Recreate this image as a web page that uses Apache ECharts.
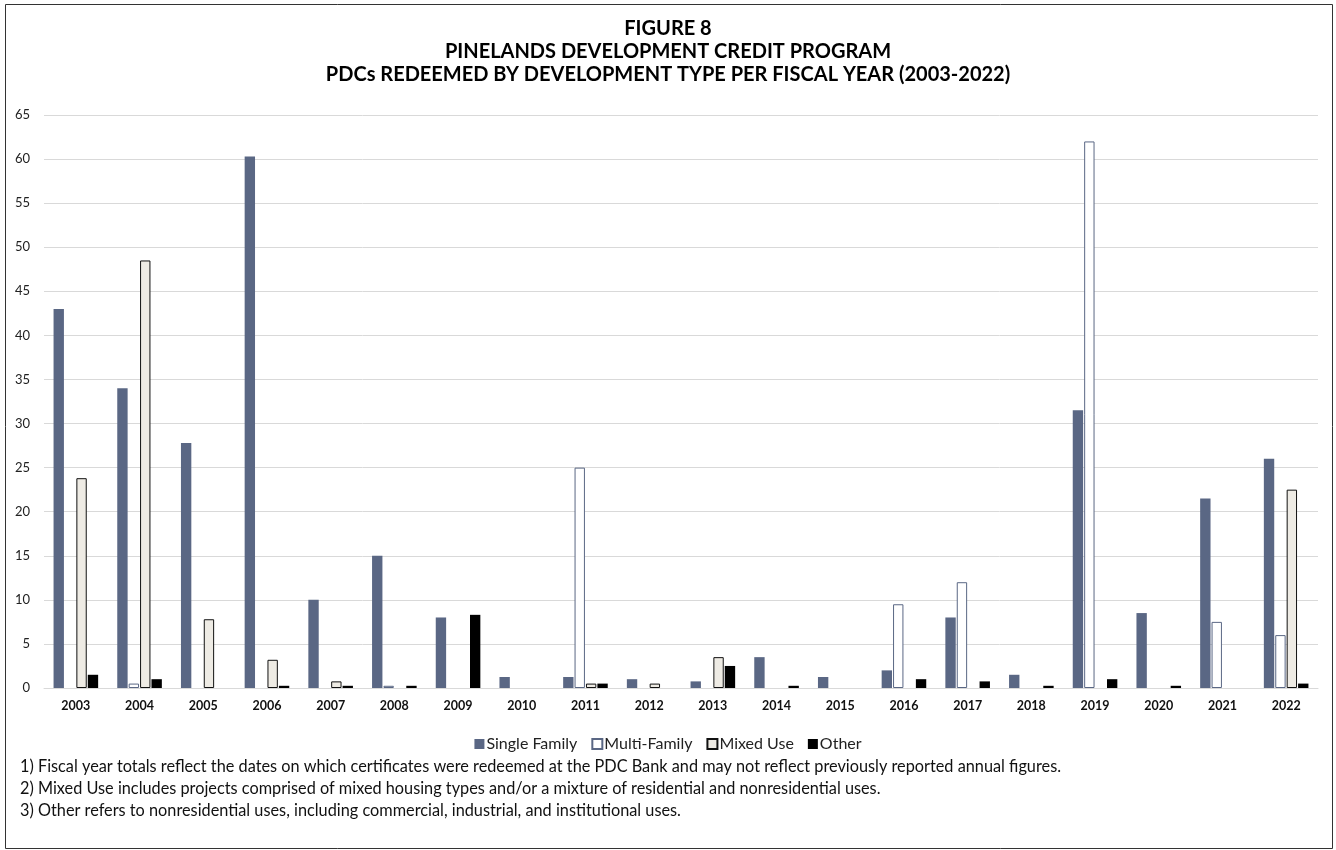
<!DOCTYPE html>
<html><head><meta charset="utf-8">
<script src="https://cdn.jsdelivr.net/npm/echarts@6/dist/echarts.min.js"></script>
<style>html,body{margin:0;padding:0;background:#fff}#c{width:1336px;height:850px}</style>
</head><body><div id="c"></div>
<script>
const years = ['2003','2004','2005','2006','2007','2008','2009','2010','2011','2012','2013','2014','2015','2016','2017','2018','2019','2020','2021','2022'];
const singleFamily = [43, 34, 27.8, 60.3, 10, 15, 8, 1.25, 1.25, 1, 0.75, 3.5, 1.25, 2, 8, 1.5, 31.5, 8.5, 21.5, 26];
const multiFamily  = [0, 0.5, 0, 0, 0, 0.25, 0, 0, 25, 0, 0, 0, 0, 9.5, 12, 0, 62, 0, 7.5, 6];
const mixedUse     = [23.8, 48.5, 7.8, 3.2, 0.75, 0, 0, 0, 0.5, 0.5, 3.5, 0, 0, 0, 0, 0, 0, 0, 0, 22.5];
const other        = [1.5, 1, 0, 0.25, 0.25, 0.25, 8.3, 0, 0.5, 0, 2.5, 0.25, 0, 1, 0.75, 0.25, 1, 0.25, 0, 0.5];
const yTicks = [0,5,10,15,20,25,30,35,40,45,50,55,60,65];
const titleLines = ['FIGURE 8','PINELANDS DEVELOPMENT CREDIT PROGRAM','PDCs REDEEMED BY DEVELOPMENT TYPE PER FISCAL YEAR (2003-2022)'];
const notes = [
 '1) Fiscal year totals reflect the dates on which certificates were redeemed at the PDC Bank and may not reflect previously reported annual figures.',
 '2) Mixed Use includes projects comprised of mixed housing types and/or a mixture of residential and nonresidential uses.',
 '3) Other refers to nonresidential uses, including commercial, industrial, and institutional uses.'
];
const FONT = 'Lato';
const chart = echarts.init(document.getElementById('c'));
const mk = (name, data, fill, border) => ({
  name, type:'bar', data: data.map(v => v === 0 ? null : v),
  barGap:'10%', barCategoryGap:'30%',
  itemStyle:{color:fill, borderColor:border, borderWidth: border ? 1 : 0},
  emphasis:{disabled:true}
});
chart.setOption({
  animation:false,
  textStyle:{fontFamily:FONT},
  title:{text:titleLines.join('\n'), left:'center', top:12,
    textStyle:{fontFamily:FONT, fontSize:20, fontWeight:'bold', color:'#000', lineHeight:23}},
  grid:{left:44, right:18, top:115, bottom:162, containLabel:false},
  legend:{top:731, left:'center', itemWidth:10, itemHeight:10, itemGap:14,
    icon:'rect', textStyle:{fontFamily:FONT, fontSize:16, color:'#222', padding:[0,0,0,-3]},
    data:['Single Family','Multi-Family','Mixed Use','Other']},
  xAxis:{type:'category', data:years,
    axisLine:{lineStyle:{color:'#d9d9d9'}}, axisTick:{show:false},
    axisLabel:{fontFamily:FONT, fontSize:12.5, fontWeight:'bold', color:'#111', margin:11}},
  yAxis:{type:'value', min:0, max:65, interval:5,
    axisLine:{show:false}, axisTick:{show:false},
    splitLine:{lineStyle:{color:'#d9d9d9', width:1}},
    axisLabel:{fontFamily:FONT, fontSize:13, color:'#222', margin:14,
      formatter: v => yTicks.includes(v) ? String(v) : ''}},
  series:[
    mk('Single Family', singleFamily, '#5a6784', null),
    mk('Multi-Family', multiFamily, '#ffffff', '#5a6784'),
    mk('Mixed Use', mixedUse, '#eeebe4', '#111111'),
    mk('Other', other, '#000000', null)
  ],
  graphic:[
    {type:'rect', shape:{x:5.5, y:4.5, width:1327, height:844}, style:{fill:null, stroke:'#333', lineWidth:1}, silent:true},
    ...notes.map((t,i) => ({type:'text', left:20, top:759 + i*22,
      style:{text:t, font:'16.3px ' + FONT, fill:'#111'}}))
  ]
});
</script></body></html>
